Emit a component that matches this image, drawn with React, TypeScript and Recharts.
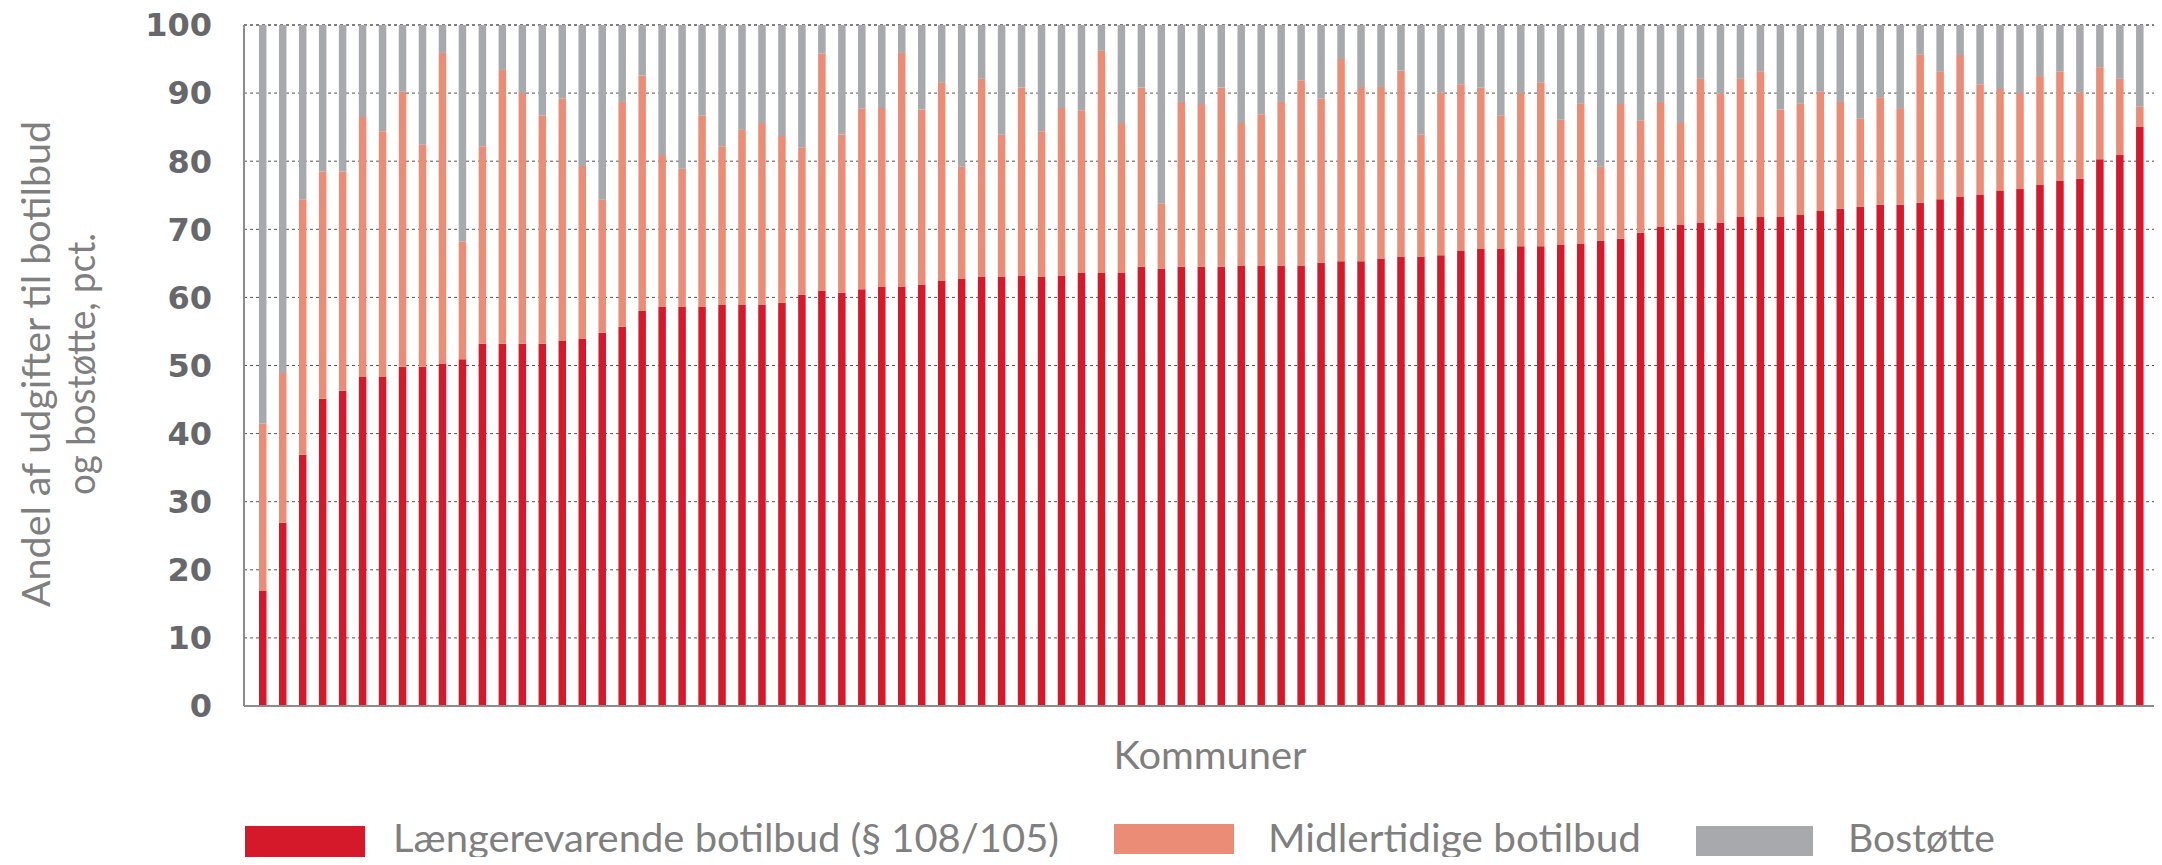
import React from 'react';
import { BarChart, Bar, XAxis, YAxis, CartesianGrid, Legend } from 'recharts';

const kommuner: string[] = Array.from({ length: 96 }, (_, i) => `Kommune ${i + 1}`);

const laengerevarende = [
  16.9, 26.9, 36.9, 45.1, 46.3, 48.3, 48.3, 49.8, 49.8, 50.3, 50.9, 53.2, 53.2, 53.2, 53.2, 53.6,
  53.9, 54.8, 55.7, 58.0, 58.6, 58.6, 58.6, 58.9, 58.9, 58.9, 59.2, 60.4, 61.0, 60.7, 61.2, 61.6,
  61.6, 61.9, 62.4, 62.7, 63.0, 63.0, 63.2, 63.0, 63.2, 63.6, 63.6, 63.6, 64.5, 64.2, 64.5, 64.5,
  64.5, 64.7, 64.7, 64.7, 64.7, 65.1, 65.3, 65.3, 65.7, 66.0, 66.0, 66.2, 66.8, 67.1, 67.1, 67.5,
  67.5, 67.7, 67.9, 68.3, 68.6, 69.5, 70.4, 70.7, 71.0, 71.0, 71.8, 71.8, 71.8, 72.1, 72.7, 73.0,
  73.3, 73.6, 73.6, 73.9, 74.4, 74.8, 75.1, 75.7, 75.9, 76.5, 77.1, 77.4, 80.3, 80.9, 85.1, 86.6,
];

const midlertidige = [
  24.6, 22.0, 37.5, 33.4, 32.2, 38.2, 36.1, 40.4, 32.6, 45.6, 17.3, 29.0, 40.2, 36.8, 33.5, 35.6,
  25.4, 19.6, 33.0, 34.6, 22.3, 20.3, 28.1, 23.3, 25.7, 26.7, 24.5, 21.6, 34.8, 23.2, 26.5, 26.2,
  34.3, 25.7, 29.1, 16.5, 29.1, 20.9, 27.6, 21.4, 24.6, 23.9, 32.6, 22.0, 26.3, 9.6, 24.2, 23.9,
  26.3, 20.9, 22.2, 24.0, 27.2, 24.1, 29.7, 25.6, 25.2, 27.3, 17.9, 23.9, 24.5, 23.7, 19.6, 22.5,
  24.1, 18.4, 20.6, 10.9, 19.8, 16.5, 18.3, 14.9, 21.1, 18.9, 20.3, 21.4, 15.8, 16.4, 17.5, 15.7,
  13.0, 15.8, 14.2, 21.8, 18.8, 20.8, 16.2, 14.9, 14.1, 16.0, 16.1, 12.7, 13.5, 11.2, 2.9, 9.3,
];

const bostoette = [
  58.5, 51.1, 25.6, 21.5, 21.5, 13.5, 15.6, 9.8, 17.6, 4.1, 31.8, 17.8, 6.6, 10.0, 13.3, 10.8,
  20.7, 25.6, 11.3, 7.4, 19.1, 21.1, 13.3, 17.8, 15.4, 14.4, 16.3, 18.0, 4.2, 16.1, 12.3, 12.2,
  4.1, 12.4, 8.5, 20.8, 7.9, 16.1, 9.2, 15.6, 12.2, 12.5, 3.8, 14.4, 9.2, 26.2, 11.3, 11.6,
  9.2, 14.4, 13.1, 11.3, 8.1, 10.8, 5.0, 9.1, 9.1, 6.7, 16.1, 9.9, 8.7, 9.2, 13.3, 10.0,
  8.4, 13.9, 11.5, 20.8, 11.6, 14.0, 11.3, 14.4, 7.9, 10.1, 7.9, 6.8, 12.4, 11.5, 9.8, 11.3,
  13.7, 10.6, 12.2, 4.3, 6.8, 4.4, 8.7, 9.4, 10.0, 7.5, 6.8, 9.9, 6.2, 7.9, 12.0, 4.1,
];

const yTicks = [0, 10, 20, 30, 40, 50, 60, 70, 80, 90, 100];

const seriesLabels = {
  laengerevarende: 'Længerevarende botilbud (§ 108/105)',
  midlertidige: 'Midlertidige botilbud',
  bostoette: 'Bostøtte',
};
const xTitle = 'Kommuner';
const yTitleLines = ['Andel af udgifter til botilbud', 'og bostøtte, pct.'];

const RED = '#D6182B';
const SALMON = '#EA8C76';
const GRAY = '#A7A9AC';
const TEXT_GRAY = '#7f7f7f';
const TICK_GRAY = '#66686c';
const AXIS_GRAY = '#8c8c8c';
const FONT = 'Lato, "Open Sans", sans-serif';

const data = kommuner.map((name, i) => ({
  name,
  laengerevarende: laengerevarende[i],
  midlertidige: midlertidige[i],
  bostoette: bostoette[i],
}));

const XTitle = () => (
  <text x={1210} y={769} textAnchor="middle" fill={TEXT_GRAY} fontSize={38} fontFamily={FONT}
    textLength={193} lengthAdjust="spacingAndGlyphs">
    {xTitle}
  </text>
);

const YTitle = () => (
  <g>
    <text x={50} y={364} transform="rotate(-90 50 364)" textAnchor="middle" fill={TEXT_GRAY}
      fontSize={38} fontFamily={FONT} textLength={486} lengthAdjust="spacingAndGlyphs">
      {yTitleLines[0]}
    </text>
    <text x={95} y={364} transform="rotate(-90 95 364)" textAnchor="middle" fill={TEXT_GRAY}
      fontSize={38} fontFamily={FONT} textLength={262} lengthAdjust="spacingAndGlyphs">
      {yTitleLines[1]}
    </text>
  </g>
);

const LEG_TOP = 800;
const LEG_H = 65;
const legendItems = [
  { key: 'laengerevarende', color: RED, rx: 245, ry: 826, rw: 120, rh: 31, tx: 393, tl: 666 },
  { key: 'midlertidige', color: SALMON, rx: 1114, ry: 824, rw: 120, rh: 30, tx: 1268, tl: 373 },
  { key: 'bostoette', color: GRAY, rx: 1696, ry: 826, rw: 117, rh: 30, tx: 1848, tl: 147 },
];

const renderLegend = () => (
  <svg width={2162} height={LEG_H} style={{ display: 'block' }}>
    {legendItems.map((it) => (
      <g key={it.key}>
        <rect x={it.rx} y={it.ry - LEG_TOP} width={it.rw} height={it.rh} fill={it.color} />
        <text x={it.tx} y={852 - LEG_TOP} fill={TEXT_GRAY} fontSize={38} fontFamily={FONT}
          textLength={it.tl} lengthAdjust="spacingAndGlyphs">
          {seriesLabels[it.key as keyof typeof seriesLabels]}
        </text>
      </g>
    ))}
  </svg>
);

export default function App() {
  return (
    <div style={{ margin: -8, width: 2162, height: 865, overflow: 'hidden', position: 'relative' }}>
      <BarChart
        width={2170}
        height={865}
        data={data}
        margin={{ top: 25, right: 0, bottom: 0, left: 0 }}
        barSize={7.5}
      >
        <CartesianGrid vertical={false} stroke="#555" strokeDasharray="3 3" />
        <XAxis
          dataKey="name"
          tick={false}
          tickLine={false}
          axisLine={{ stroke: AXIS_GRAY, strokeWidth: 2 }}
          height={159}
          padding={{ left: 9, right: 0 }}
          interval={0}
          label={<XTitle />}
        />
        <YAxis
          type="number"
          domain={[0, 100]}
          ticks={yTicks}
          interval={0}
          width={244}
          tickLine={false}
          tickSize={0}
          tickMargin={32}
          axisLine={{ stroke: AXIS_GRAY, strokeWidth: 2 }}
          tick={{ fill: TICK_GRAY, fontSize: 32, fontWeight: 700, fontFamily: '"DejaVu Sans", sans-serif' }}
          label={<YTitle />}
        />
        <Bar dataKey="laengerevarende" stackId="a" fill={RED} isAnimationActive={false} name={seriesLabels.laengerevarende} />
        <Bar dataKey="midlertidige" stackId="a" fill={SALMON} isAnimationActive={false} name={seriesLabels.midlertidige} />
        <Bar dataKey="bostoette" stackId="a" fill={GRAY} isAnimationActive={false} name={seriesLabels.bostoette} />
        <Legend
          layout="vertical"
          align="center"
          verticalAlign="middle"
          wrapperStyle={{ top: LEG_TOP, left: 0, width: 2162, height: LEG_H }}
          content={renderLegend}
        />
      </BarChart>
    </div>
  );
}
